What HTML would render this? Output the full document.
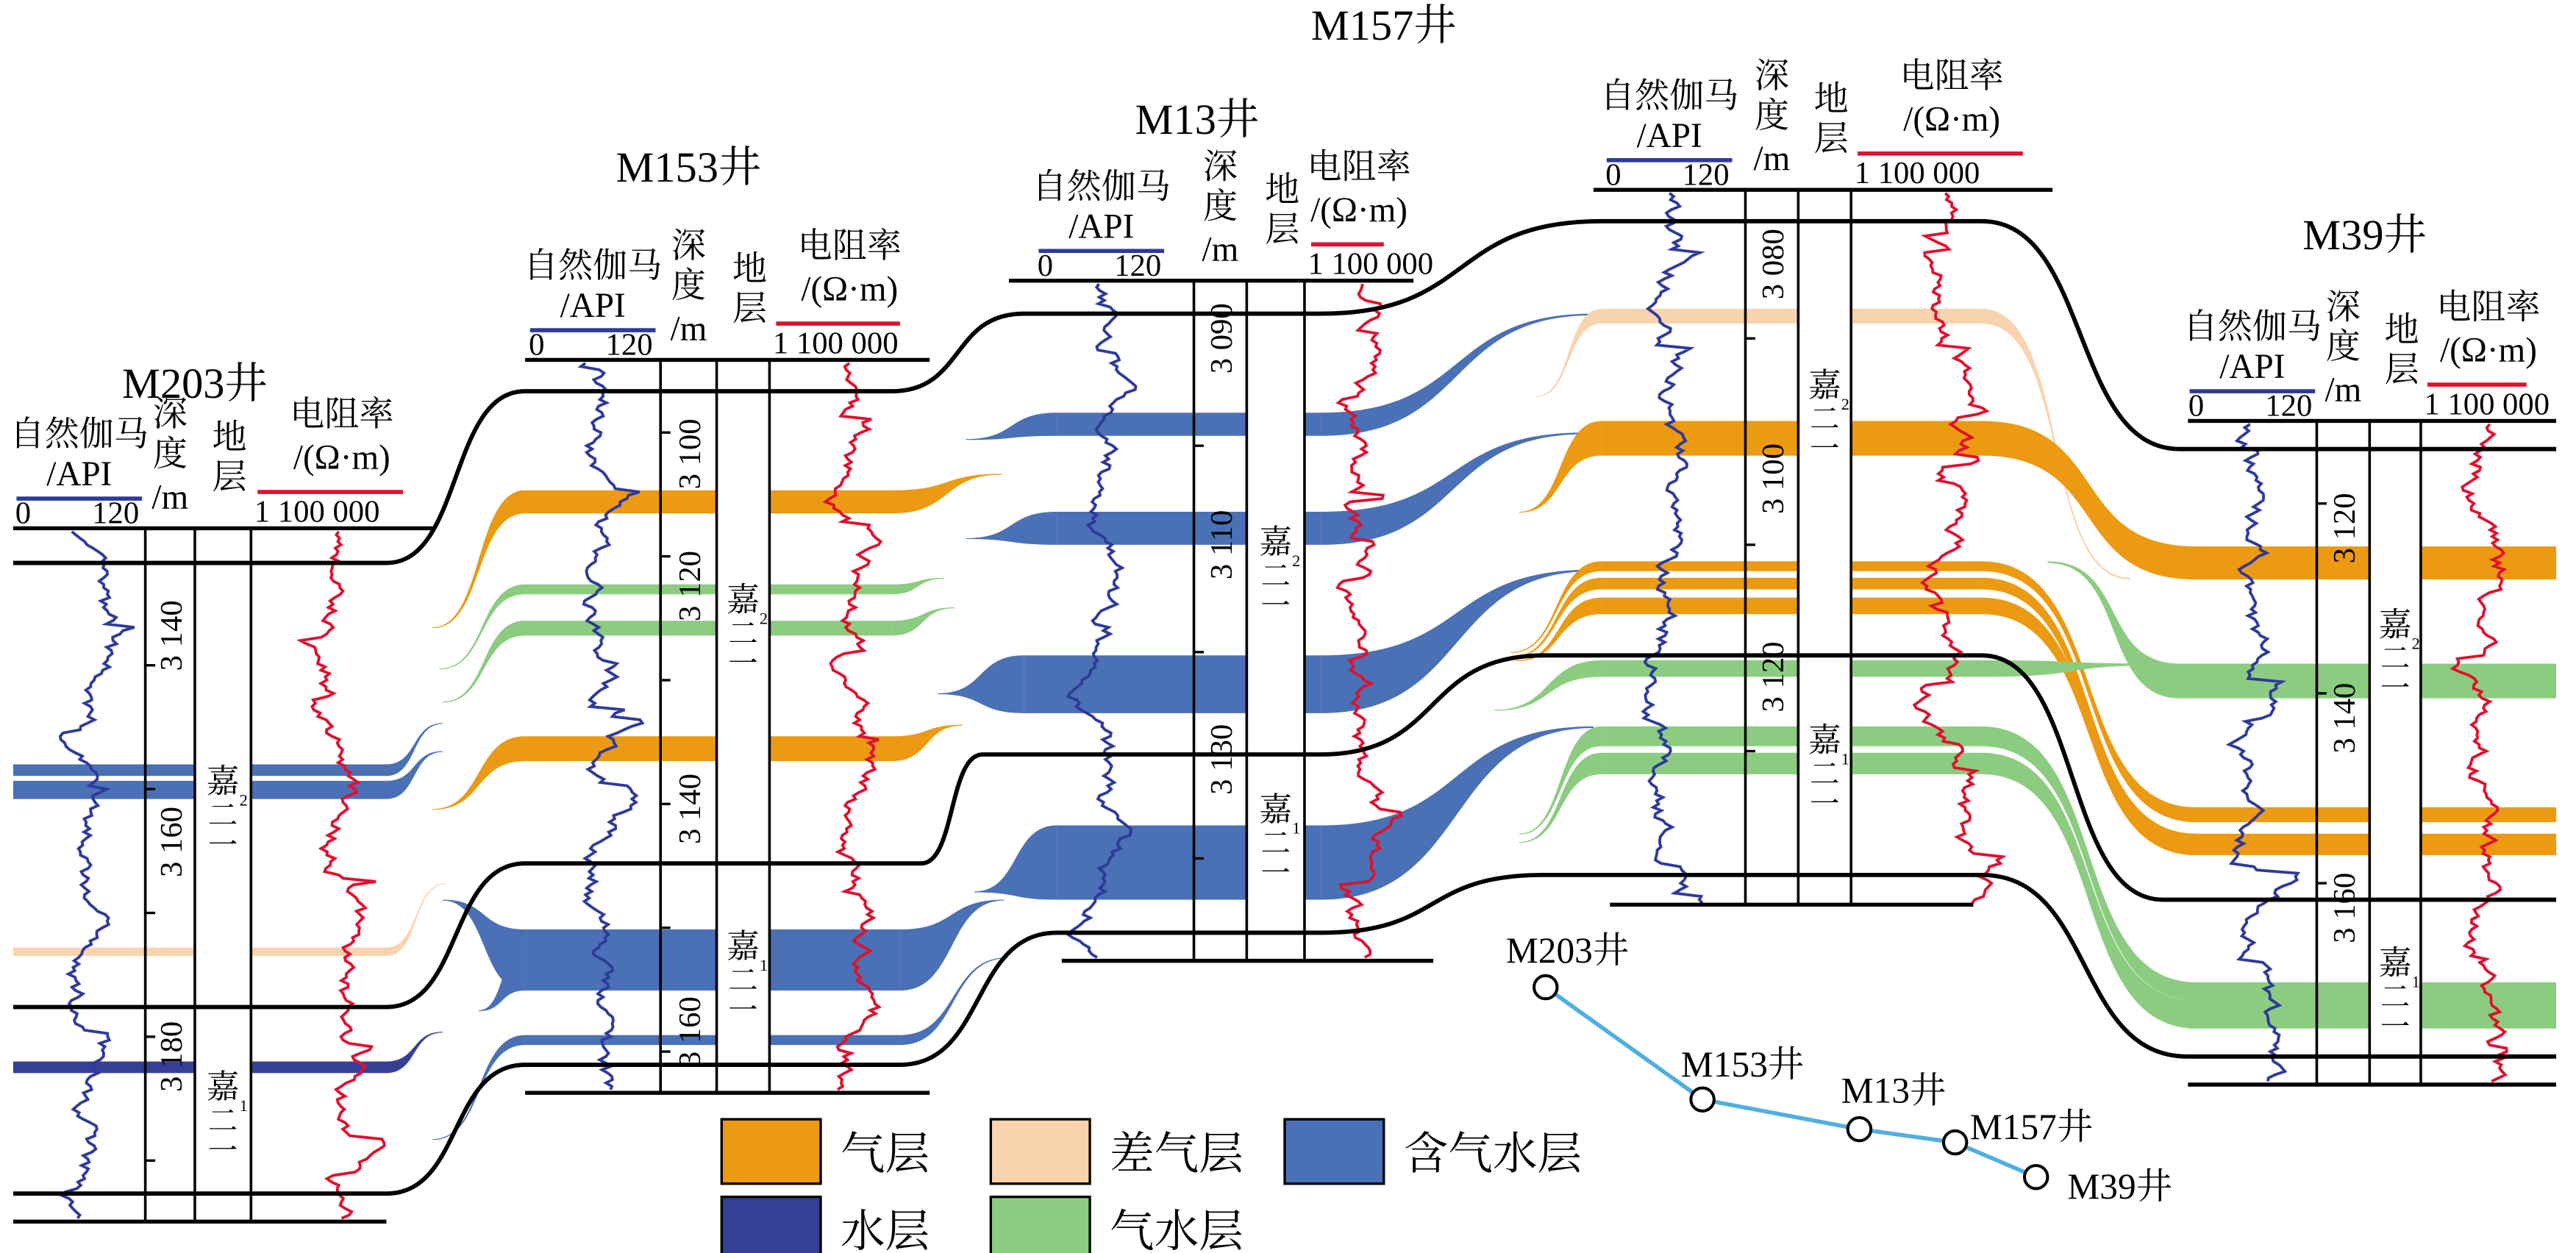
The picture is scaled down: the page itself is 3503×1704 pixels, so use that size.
<!DOCTYPE html>
<html><head><meta charset="utf-8">
<style>
html,body{margin:0;padding:0;background:#fff;}
svg{display:block;}
text{font-family:"Liberation Serif","Noto Serif CJK SC","Noto Sans CJK SC",serif;fill:#000;}
</style></head>
<body>
<svg id="s" width="3503" height="1704" viewBox="0 0 1560 759" preserveAspectRatio="none" xmlns="http://www.w3.org/2000/svg">
<g id="bands"></g>
<g id="cols"></g>
<g id="logs"></g>
<g id="lines"></g>
<g id="txt"></g>
</svg>
<script>
const NS="http://www.w3.org/2000/svg";
function el(p,tag,a,t){const e=document.createElementNS(NS,tag);for(const k in a)e.setAttribute(k,a[k]);if(t!==undefined)e.textContent=t;document.getElementById(p).appendChild(e);return e;}
const C={o:"#ec9a12",p:"#f9d3ae",b:"#4a70b5",d:"#363f96",g:"#8ccc80"};
function rect(c,x1,x2,t,b){el("bands","rect",{x:x1,y:t,width:x2-x1,height:b-t,fill:C[c]});}
function rib(c,x1,t1,b1,x2,t2,b2,k){k=k||0.55;const dx=(x2-x1)*k;
 const d=`M${x1},${t1} C${x1+dx},${t1} ${x2-dx},${t2} ${x2},${t2} L${x2},${b2} C${x2-dx},${b2} ${x1+dx},${b1} ${x1},${b1} Z`;
 el("bands","path",{d:d,fill:C[c]});}
function tap(c,x1,t1,b1,x2,y2,k){rib(c,x1,t1,b1,x2,y2,y2+0.5,k);}
// M203
rect("b",8,235,463,470);tap("b",234,463,470,268,438);
rect("b",8,235,473,484);tap("b",234,473,484,268,455);
rect("p",8,235,574,579);tap("p",234,574,579,270,535);
rect("d",8,235,643,650);tap("d",234,643,650,268,625);
// M153
rect("o",318,540,297,311);tap("o",318,297,311,262,380);tap("o",540,297,311,607,287);
rect("g",318,540,354,360);tap("g",318,354,360,266,405);tap("g",540,354,360,572,350);
rect("g",318,540,376,385);tap("g",318,376,385,268,425);tap("g",540,376,385,578,368);
rect("o",318,540,446,461);tap("o",318,446,461,262,490);tap("o",540,446,461,583,439);
rect("b",318,545,563,600);tap("b",318,563,600,268,545);tap("b",318,575,600,290,612);tap("b",545,563,600,608,545);
rect("b",318,545,627,633);tap("b",318,627,633,262,690);tap("b",545,627,633,610,580);
// M13
rect("b",640,800,250,264);tap("b",640,250,264,585,266);rib("b",800,250,264,965,190,191);
rect("b",640,800,310,330);tap("b",640,310,330,585,326);rib("b",800,310,330,960,262,263);
rect("b",620,800,397,432);tap("b",620,397,432,568,420);rib("b",800,397,432,965,345,346);
rect("b",640,800,500,545);tap("b",640,500,545,590,540);rib("b",800,500,545,965,440,441);
// M157
rect("p",970,1200,187,196);tap("p",970,187,196,930,240);rib("p",1200,187,196,1290,350,351,0.6);
rect("o",970,1200,255,276);tap("o",970,255,276,920,310);rib("o",1200,255,276,1330,331,351,0.6);
rect("o",970,1200,340,346);tap("o",970,340,346,915,395);rib("o",1200,340,346,1330,489,498,0.6);
rect("o",970,1200,350,357);tap("o",970,350,357,915,398);rib("o",1200,350,357,1330,505,518,0.6);
rect("o",970,1200,362,372);tap("o",970,362,372,918,400);rib("o",1200,362,372,1330,505,518,0.6);
rect("g",970,1200,400,410);tap("g",970,400,410,905,430);rib("g",1200,400,410,1310,402,403,0.6);
rect("g",970,1200,440,452);tap("g",970,440,452,920,505);rib("g",1200,440,452,1330,595,606,0.6);
rect("g",970,1200,456,469);tap("g",970,456,469,920,510);rib("g",1200,456,469,1330,606,623,0.6);
// M39
rect("o",1325,1548,331,351);rect("g",1320,1548,402,423);rib("g",1240,340,341,1320,402,423,0.6);
rect("o",1325,1548,489,498);rect("o",1325,1548,505,518);rect("g",1325,1548,595,623);
const W=[
 {n:"M203井",L:8,R:262,v:[88,118,152],hy:320,bot:740,ty:241,tx:118,
  dl:[["3 140",385],["3 160",510],["3 180",640]],sl:[["2",480],["1",665]],ticks:[403,478,553,628,703],top:341},
 {n:"M153井",L:318,R:563,v:[400,434,466],hy:218,bot:662,ty:110,tx:417,
  dl:[["3 100",275],["3 120",355],["3 140",490],["3 160",625]],sl:[["2",370],["1",580]],ticks:[262,337,412,487,562,637],top:237},
 {n:"M13井",L:611,R:856,v:[723,755,790],hy:170,bot:582,ty:81,tx:725,
  dl:[["3 090",205],["3 110",330],["3 130",460]],sl:[["2",335],["1",497]],ticks:[270,395,520],top:190},
 {n:"M157井",L:965,R:1243,v:[1057,1089,1121],hy:115,bot:548,ty:24,tx:838,
  dl:[["3 080",160],["3 100",290],["3 120",410]],sl:[["2",240],["1",455]],ticks:[205,330,455],top:134},
 {n:"M39井",L:1325,R:1548,v:[1403,1435,1466],hy:255,bot:657,ty:151,tx:1432,
  dl:[["3 120",320],["3 140",435],["3 160",550]],sl:[["2",385],["1",590]],ticks:[305,420,535],top:272}
];
let seed=7;function rnd(){seed=(seed*16807)%2147483647;return seed/2147483647;}
W.forEach(w=>{
 const [v1,v2,v3]=w.v;
 el("cols","rect",{x:v2,y:w.hy,width:v3-v2,height:w.bot-w.hy-17,fill:"#fff"});
 w.v.forEach(x=>el("lines","line",{x1:x,y1:w.hy,x2:x,y2:w.bot,stroke:"#000","stroke-width":1.6}));
 el("lines","line",{x1:w.L,y1:w.hy,x2:w.R,y2:w.hy,stroke:"#000","stroke-width":2.4});
 w.ticks.forEach(y=>el("lines","line",{x1:v1,y1:y,x2:v1+6,y2:y,stroke:"#000","stroke-width":1.5}));
 let gx=(w.L+v1)/2,px=[],rx=(v3+w.R)/2,pr=[];
 let a=gx,b=rx;
 for(let y=w.hy+2;y<w.bot;y+=2){
  a+= (rnd()-0.5)*9+(gx-a)*0.08; if(rnd()<0.04)a+=(rnd()-0.3)*30; a=Math.max(w.L+4,Math.min(v1+8,a));
  b+= (rnd()-0.5)*9+(rx-b)*0.08; if(rnd()<0.05)b+=(rnd()-0.5)*35; b=Math.max(v3+6,Math.min(w.R-2,b));
  px.push(a.toFixed(1)+","+y);pr.push(b.toFixed(1)+","+y);}
 el("logs","polyline",{points:px.join(" "),fill:"none",stroke:"#2e3a9a","stroke-width":1.7});
 el("logs","polyline",{points:pr.join(" "),fill:"none",stroke:"#e0102e","stroke-width":1.7});
 el("txt","text",{x:w.tx,y:w.ty,"font-size":26,"text-anchor":"middle"},w.n);
 const hy=w.hy,gc=(w.L+v1)/2,rc=(v3+w.R)/2;
 el("txt","text",{x:gc,y:hy-50,"font-size":21,"text-anchor":"middle"},"自然伽马");
 el("txt","text",{x:gc,y:hy-26,"font-size":21,"text-anchor":"middle"},"/API");
 el("txt","line",{x1:gc-38,y1:hy-18,x2:gc+38,y2:hy-18,stroke:"#2e3a9a","stroke-width":2.5});
 el("txt","text",{x:gc-34,y:hy-3,"font-size":19,"text-anchor":"middle"},"0");
 el("txt","text",{x:gc+22,y:hy-3,"font-size":19,"text-anchor":"middle"},"120");
 const dc=(v1+v2)/2,sc=(v2+v3)/2;
 el("txt","text",{x:dc,y:hy-62,"font-size":21,"text-anchor":"middle"},"深");
 el("txt","text",{x:dc,y:hy-38,"font-size":21,"text-anchor":"middle"},"度");
 el("txt","text",{x:dc,y:hy-12,"font-size":21,"text-anchor":"middle"},"/m");
 el("txt","text",{x:sc+4,y:hy-48,"font-size":21,"text-anchor":"middle"},"地");
 el("txt","text",{x:sc+4,y:hy-24,"font-size":21,"text-anchor":"middle"},"层");
 el("txt","text",{x:rc,y:hy-62,"font-size":21,"text-anchor":"middle"},"电阻率");
 el("txt","text",{x:rc,y:hy-36,"font-size":21,"text-anchor":"middle"},"/(Ω·m)");
 el("txt","line",{x1:v3+4,y1:hy-22,x2:w.R-18,y2:hy-22,stroke:"#e0102e","stroke-width":2.5});
 el("txt","text",{x:v3+2,y:hy-4,"font-size":19},"1  100 000");
 w.dl.forEach(([t,y])=>el("txt","text",{x:0,y:0,"font-size":19,"text-anchor":"middle",transform:`translate(${dc+7},${y}) rotate(-90)`},t));
 w.sl.forEach(([s,y])=>{
  el("txt","text",{x:sc,y:y,"font-size":20,"text-anchor":"middle"},"嘉");
  el("txt","text",{x:sc,y:y+20,"font-size":18,"text-anchor":"middle"},"二");
  el("txt","text",{x:sc+10,y:y+8,"font-size":10},s);
  el("txt","text",{x:sc,y:y+38,"font-size":18,"text-anchor":"middle"},"一");
 });
});
function chain(pts){let d=`M${pts[0][0]},${pts[0][2]} L${pts[0][1]},${pts[0][2]}`;
 for(let i=1;i<pts.length;i++){const x1=pts[i-1][1],y1=pts[i-1][2],x2=pts[i][0],y2=pts[i][2],dx=(x2-x1)*0.55;
  d+=` C${x1+dx},${y1} ${x2-dx},${y2} ${x2},${y2} L${pts[i][1]},${y2}`;}
 el("lines","path",{d:d,fill:"none",stroke:"#000","stroke-width":2.6});}
chain([[8,234,341],[318,540,237],[620,800,190],[970,1200,134],[1320,1548,272]]);
chain([[8,234,610],[318,558,523],[595,800,457],[935,1200,397],[1310,1548,545]]);
chain([[8,234,723],[318,545,645],[640,800,565],[935,1200,530],[1325,1548,640]]);
[[8,234,740],[318,563,662],[643,868,582],[975,1195,548],[1325,1548,657]].forEach(([a,b,y])=>el("lines","line",{x1:a,y1:y,x2:b,y2:y,stroke:"#000","stroke-width":2.4}));
[["o",437,678,"气层"],["d",437,725,"水层"],["p",600,678,"差气层"],["g",600,725,"气水层"],["b",778,678,"含气水层"]].forEach(([c,x,y,t])=>{
 el("txt","rect",{x:x,y:y,width:60,height:39,fill:C[c],stroke:"#000","stroke-width":1.5});
 el("txt","text",{x:x+72,y:y+30,"font-size":27},t);});
const M=[[936,598,"M203井",912,583],[1031,666,"M153井",1018,652],[1126,684,"M13井",1115,668],[1184,692,"M157井",1193,690],[1233,713,"M39井",1252,726]];
el("txt","polyline",{points:M.map(m=>m[0]+","+m[1]).join(" "),fill:"none",stroke:"#4fb0e0","stroke-width":2.5});
M.forEach(m=>{el("txt","circle",{cx:m[0],cy:m[1],r:7,fill:"#fff",stroke:"#000","stroke-width":1.8});
 el("txt","text",{x:m[3],y:m[4],"font-size":22},m[2]);});
</script>
</body></html>
